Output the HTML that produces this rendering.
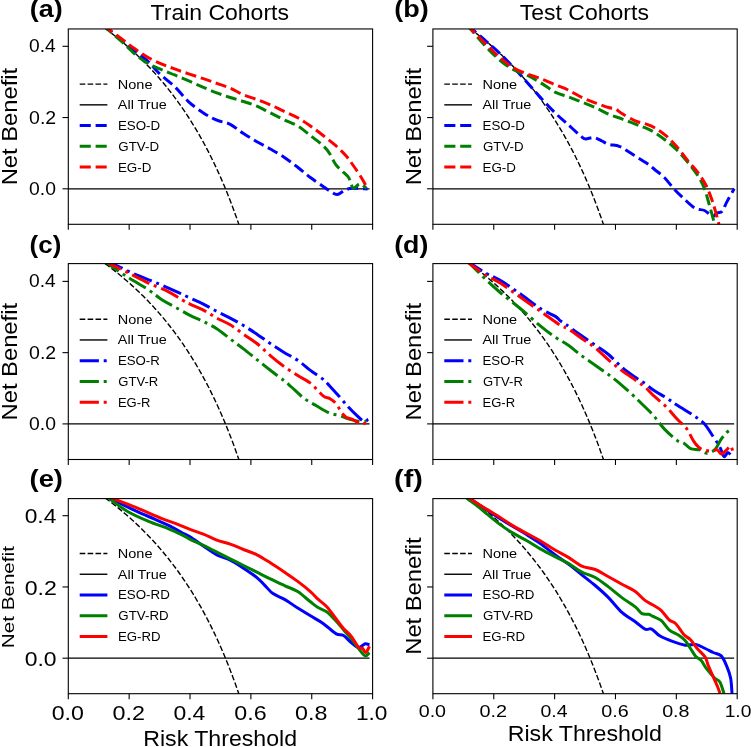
<!DOCTYPE html>
<html><head><meta charset="utf-8"><title>Decision curves</title>
<style>
html,body{margin:0;padding:0;background:#fff;}
#fig{width:751px;height:747px;overflow:hidden;position:relative;background:#fff;}
svg{display:block;will-change:transform;font-family:"Liberation Sans",sans-serif;}
</style></head><body>
<div id="fig"><svg width="751" height="747" viewBox="0 0 751 747">
<defs>
<clipPath id="c00"><rect x="68.3" y="28.95" width="304.3" height="195.35"/></clipPath>
<clipPath id="c01"><rect x="432.9" y="28.95" width="304.3" height="195.35"/></clipPath>
<clipPath id="c10"><rect x="68.3" y="263.6" width="304.3" height="195.9"/></clipPath>
<clipPath id="c11"><rect x="432.9" y="263.6" width="304.3" height="195.9"/></clipPath>
<clipPath id="c20"><rect x="68.3" y="498.6" width="304.3" height="195.1"/></clipPath>
<clipPath id="c21"><rect x="432.9" y="498.6" width="304.3" height="195.1"/></clipPath>
</defs>
<line x1="68.3" y1="188.8" x2="369.56" y2="188.8" stroke="#000" stroke-width="1.3"/>
<path d="M98.73 23.94 L99.96 24.8 L101.18 25.67 L102.41 26.54 L103.64 27.43 L104.87 28.32 L106.09 29.22 L107.32 30.13 L108.55 31.05 L109.78 31.98 L111 32.92 L112.23 33.86 L113.46 34.81 L114.69 35.78 L115.91 36.75 L117.14 37.73 L118.37 38.72 L119.6 39.72 L120.82 40.73 L122.05 41.75 L123.28 42.78 L124.51 43.82 L125.73 44.87 L126.96 45.93 L128.19 47 L129.42 48.08 L130.64 49.18 L131.87 50.28 L133.1 51.4 L134.33 52.53 L135.55 53.67 L136.78 54.82 L138.01 55.98 L139.24 57.15 L140.46 58.34 L141.69 59.54 L142.92 60.76 L144.14 61.98 L145.37 63.22 L146.6 64.47 L147.83 65.74 L149.05 67.02 L150.28 68.31 L151.51 69.62 L152.74 70.95 L153.96 72.29 L155.19 73.64 L156.42 75.01 L157.65 76.39 L158.87 77.79 L160.1 79.21 L161.33 80.64 L162.56 82.09 L163.78 83.56 L165.01 85.04 L166.24 86.54 L167.47 88.06 L168.69 89.6 L169.92 91.16 L171.15 92.74 L172.38 94.33 L173.6 95.94 L174.83 97.58 L176.06 99.23 L177.29 100.91 L178.51 102.61 L179.74 104.33 L180.97 106.07 L182.2 107.83 L183.42 109.62 L184.65 111.43 L185.88 113.26 L187.1 115.12 L188.33 117 L189.56 118.91 L190.79 120.84 L192.01 122.8 L193.24 124.79 L194.47 126.8 L195.7 128.84 L196.92 130.91 L198.15 133.01 L199.38 135.14 L200.61 137.3 L201.83 139.49 L203.06 141.71 L204.29 143.97 L205.52 146.25 L206.74 148.57 L207.97 150.93 L209.2 153.32 L210.43 155.75 L211.65 158.22 L212.88 160.72 L214.11 163.26 L215.34 165.84 L216.56 168.46 L217.79 171.13 L219.02 173.83 L220.25 176.58 L221.47 179.38 L222.7 182.22 L223.93 185.1 L225.16 188.04 L226.38 191.02 L227.61 194.06 L228.84 197.14 L230.06 200.28 L231.29 203.48 L232.52 206.73 L233.75 210.03 L234.97 213.4 L236.2 216.83 L237.43 220.32 L238.66 223.87 L239.88 227.49 L241.11 231.18 L242.34 234.93 L243.57 238.76 L244.79 242.66" fill="none" stroke="#000" stroke-width="1.4" stroke-dasharray="5.6 2.3" clip-path="url(#c00)" stroke-linejoin="round"/>
<path d="M104 25 C104.67 25.67 105.03 26.42 108 29 C110.97 31.58 117.27 36.78 121.8 40.5 C126.33 44.22 130.75 47.75 135.2 51.3 C139.65 54.85 145.17 58.82 148.5 61.8 C151.83 64.78 152.97 66.85 155.2 69.2 C157.43 71.55 158.55 72.9 161.9 75.9 C165.25 78.9 170.83 82.88 175.3 87.2 C179.77 91.52 184.02 97.52 188.7 101.8 C193.38 106.08 198.72 109.83 203.4 112.9 C208.08 115.97 212.33 118.3 216.8 120.2 C221.27 122.1 225.75 122.07 230.2 124.3 C234.65 126.53 239.05 130.7 243.5 133.6 C247.95 136.5 252.43 139.13 256.9 141.7 C261.37 144.27 265.83 146.47 270.3 149 C274.77 151.53 279.13 153.85 283.7 156.9 C288.27 159.95 293.25 163.87 297.7 167.3 C302.15 170.73 306.17 174.32 310.4 177.5 C314.63 180.68 319.92 184.18 323.1 186.4 C326.28 188.62 327.17 189.43 329.5 190.8 C331.83 192.17 334.57 194.7 337.1 194.6 C339.63 194.5 342.15 191.25 344.7 190.2 C347.25 189.15 348.58 188.52 352.4 188.3 C356.22 188.08 365.07 188.8 367.6 188.9" fill="none" stroke="#0000ff" stroke-width="3" stroke-dasharray="11.1 4.8" clip-path="url(#c00)" stroke-linejoin="round" stroke-linecap="butt"/>
<path d="M104 25 C104.58 25.67 104.53 26.22 107.5 29 C110.47 31.78 117.18 37.47 121.8 41.7 C126.42 45.93 130.75 50.72 135.2 54.4 C139.65 58.08 144.05 61.23 148.5 63.8 C152.95 66.37 157.43 67.9 161.9 69.8 C166.37 71.7 170.62 73.27 175.3 75.2 C179.98 77.13 185.32 79.37 190 81.4 C194.68 83.43 198.93 85.5 203.4 87.4 C207.87 89.3 212.33 91.12 216.8 92.8 C221.27 94.48 225.75 96.05 230.2 97.5 C234.65 98.95 239.05 100.05 243.5 101.5 C247.95 102.95 252.43 104.3 256.9 106.2 C261.37 108.1 265.83 110.67 270.3 112.9 C274.77 115.13 279.13 117.42 283.7 119.6 C288.27 121.78 293.25 123.35 297.7 126 C302.15 128.65 306.17 132.22 310.4 135.5 C314.63 138.78 319.92 142.73 323.1 145.7 C326.28 148.67 327.38 150.13 329.5 153.3 C331.62 156.47 333.68 161.73 335.8 164.7 C337.92 167.67 340.07 168.97 342.2 171.1 C344.33 173.23 347.12 175.38 348.6 177.5 C350.08 179.62 350.27 182 351.1 183.8 C351.93 185.6 352.12 188.3 353.6 188.3 C355.08 188.3 357.87 183.8 360 183.8 C362.13 183.8 365.33 187.55 366.4 188.3" fill="none" stroke="#008000" stroke-width="3" stroke-dasharray="11.1 4.8" clip-path="url(#c00)" stroke-linejoin="round" stroke-linecap="butt"/>
<path d="M104 25 C104.73 25.67 105.43 26.67 108.4 29 C111.37 31.33 117.33 35.65 121.8 39 C126.27 42.35 130.75 45.97 135.2 49.1 C139.65 52.23 144.05 55.3 148.5 57.8 C152.95 60.3 157.43 62.2 161.9 64.1 C166.37 66 170.83 67.58 175.3 69.2 C179.77 70.82 184.02 72.22 188.7 73.8 C193.38 75.38 198.72 77.1 203.4 78.7 C208.08 80.3 212.33 81.83 216.8 83.4 C221.27 84.97 225.75 86.2 230.2 88.1 C234.65 90 239.05 92.9 243.5 94.8 C247.95 96.7 252.43 97.83 256.9 99.5 C261.37 101.17 265.83 102.85 270.3 104.8 C274.77 106.75 279.13 109.05 283.7 111.2 C288.27 113.35 293.25 115.23 297.7 117.7 C302.15 120.17 306.17 123.03 310.4 126 C314.63 128.97 318.87 132.22 323.1 135.5 C327.33 138.78 331.98 142.32 335.8 145.7 C339.62 149.08 343.03 152.42 346 155.8 C348.97 159.18 351.05 162.38 353.6 166 C356.15 169.62 359.07 173.9 361.3 177.5 C363.53 181.1 366.05 185.92 367 187.6" fill="none" stroke="#ff0000" stroke-width="3" stroke-dasharray="11.1 4.8" clip-path="url(#c00)" stroke-linejoin="round" stroke-linecap="butt"/>
<rect x="68.3" y="28.95" width="304.3" height="195.35" fill="none" stroke="#000" stroke-width="1.1"/>
<line x1="62.5" y1="188.8" x2="68.3" y2="188.8" stroke="#000" stroke-width="1.1"/>
<line x1="62.5" y1="117.55" x2="68.3" y2="117.55" stroke="#000" stroke-width="1.1"/>
<line x1="62.5" y1="46.3" x2="68.3" y2="46.3" stroke="#000" stroke-width="1.1"/>
<line x1="68.3" y1="224.3" x2="68.3" y2="229.8" stroke="#000" stroke-width="1.1"/>
<line x1="129.16" y1="224.3" x2="129.16" y2="229.8" stroke="#000" stroke-width="1.1"/>
<line x1="190.02" y1="224.3" x2="190.02" y2="229.8" stroke="#000" stroke-width="1.1"/>
<line x1="250.88" y1="224.3" x2="250.88" y2="229.8" stroke="#000" stroke-width="1.1"/>
<line x1="311.74" y1="224.3" x2="311.74" y2="229.8" stroke="#000" stroke-width="1.1"/>
<line x1="372.6" y1="224.3" x2="372.6" y2="229.8" stroke="#000" stroke-width="1.1"/>
<line x1="79.7" y1="84.1" x2="107.4" y2="84.1" stroke="#000" stroke-width="1.4" stroke-dasharray="5.6 2.3"/>
<line x1="79.7" y1="104.85" x2="107.4" y2="104.85" stroke="#000" stroke-width="1.4"/>
<line x1="79.7" y1="125.6" x2="107.4" y2="125.6" stroke="#0000ff" stroke-width="3" stroke-dasharray="11.1 4.8"/>
<line x1="79.7" y1="146.35" x2="107.4" y2="146.35" stroke="#008000" stroke-width="3" stroke-dasharray="11.1 4.8"/>
<line x1="79.7" y1="167.1" x2="107.4" y2="167.1" stroke="#ff0000" stroke-width="3" stroke-dasharray="11.1 4.8"/>
<text transform="translate(117.8,88.8) scale(1.0624,1)" font-size="13.67" fill="#000">None</text>
<text transform="translate(117.86,109.1) scale(1.0539,1)" font-size="13.67" fill="#000">All True</text>
<text transform="translate(117.9,129.8) scale(0.9776,1)" font-size="13.67" fill="#000">ESO-D</text>
<text transform="translate(118.33,150.6) scale(0.9744,1)" font-size="13.67" fill="#000">GTV-D</text>
<text transform="translate(117.9,171.8) scale(0.9783,1)" font-size="13.67" fill="#000">EG-D</text>
<line x1="432.9" y1="188.8" x2="734.16" y2="188.8" stroke="#000" stroke-width="1.3"/>
<path d="M463.33 23.94 L464.56 24.8 L465.78 25.67 L467.01 26.54 L468.24 27.43 L469.47 28.32 L470.69 29.22 L471.92 30.13 L473.15 31.05 L474.38 31.98 L475.6 32.92 L476.83 33.86 L478.06 34.81 L479.29 35.78 L480.51 36.75 L481.74 37.73 L482.97 38.72 L484.2 39.72 L485.42 40.73 L486.65 41.75 L487.88 42.78 L489.11 43.82 L490.33 44.87 L491.56 45.93 L492.79 47 L494.02 48.08 L495.24 49.18 L496.47 50.28 L497.7 51.4 L498.93 52.53 L500.15 53.67 L501.38 54.82 L502.61 55.98 L503.84 57.15 L505.06 58.34 L506.29 59.54 L507.52 60.76 L508.74 61.98 L509.97 63.22 L511.2 64.47 L512.43 65.74 L513.65 67.02 L514.88 68.31 L516.11 69.62 L517.34 70.95 L518.56 72.29 L519.79 73.64 L521.02 75.01 L522.25 76.39 L523.47 77.79 L524.7 79.21 L525.93 80.64 L527.16 82.09 L528.38 83.56 L529.61 85.04 L530.84 86.54 L532.07 88.06 L533.29 89.6 L534.52 91.16 L535.75 92.74 L536.98 94.33 L538.2 95.94 L539.43 97.58 L540.66 99.23 L541.89 100.91 L543.11 102.61 L544.34 104.33 L545.57 106.07 L546.8 107.83 L548.02 109.62 L549.25 111.43 L550.48 113.26 L551.7 115.12 L552.93 117 L554.16 118.91 L555.39 120.84 L556.61 122.8 L557.84 124.79 L559.07 126.8 L560.3 128.84 L561.52 130.91 L562.75 133.01 L563.98 135.14 L565.21 137.3 L566.43 139.49 L567.66 141.71 L568.89 143.97 L570.12 146.25 L571.34 148.57 L572.57 150.93 L573.8 153.32 L575.03 155.75 L576.25 158.22 L577.48 160.72 L578.71 163.26 L579.94 165.84 L581.16 168.46 L582.39 171.13 L583.62 173.83 L584.85 176.58 L586.07 179.38 L587.3 182.22 L588.53 185.1 L589.76 188.04 L590.98 191.02 L592.21 194.06 L593.44 197.14 L594.66 200.28 L595.89 203.48 L597.12 206.73 L598.35 210.03 L599.57 213.4 L600.8 216.83 L602.03 220.32 L603.26 223.87 L604.48 227.49 L605.71 231.18 L606.94 234.93 L608.17 238.76 L609.39 242.66" fill="none" stroke="#000" stroke-width="1.4" stroke-dasharray="5.6 2.3" clip-path="url(#c01)" stroke-linejoin="round"/>
<path d="M468 25 C468.67 25.67 468.87 26.2 472 29 C475.13 31.8 482.1 37.67 486.8 41.8 C491.5 45.93 494.85 48.57 500.2 53.8 C505.55 59.03 514 67.97 518.9 73.2 C523.8 78.43 526.03 81.18 529.6 85.2 C533.17 89.22 536.07 92.7 540.3 97.3 C544.53 101.9 550.32 108.2 555 112.8 C559.68 117.4 563.93 120.88 568.4 124.9 C572.87 128.92 578.9 134.57 581.8 136.9 C584.7 139.23 583.8 138.78 585.8 138.9 C587.8 139.02 591.12 137.25 593.8 137.6 C596.48 137.95 599.45 139.88 601.9 141 C604.35 142.12 605.6 143.42 608.5 144.3 C611.4 145.18 615.95 145.07 619.3 146.3 C622.65 147.53 625.48 149.8 628.6 151.7 C631.72 153.6 634.65 155.57 638 157.7 C641.35 159.83 645.93 162.53 648.7 164.5 C651.47 166.47 652 167.33 654.6 169.5 C657.2 171.67 661.08 174.28 664.3 177.5 C667.52 180.72 670.68 185.32 673.9 188.8 C677.12 192.28 680.12 195.18 683.6 198.4 C687.08 201.62 691.32 206.08 694.8 208.1 C698.28 210.12 701.55 209.17 704.5 210.5 C707.45 211.83 710.37 215.7 712.5 216.1 C714.63 216.5 715.68 213.7 717.3 212.9 C718.92 212.1 720.58 213.18 722.2 211.3 C723.82 209.42 725 205.35 727 201.6 C729 197.85 733 190.93 734.2 188.8" fill="none" stroke="#0000ff" stroke-width="3" stroke-dasharray="11.1 4.8" clip-path="url(#c01)" stroke-linejoin="round" stroke-linecap="butt"/>
<path d="M467 25 C467.58 25.67 467.2 25.22 470.5 29 C473.8 32.78 481.85 42.45 486.8 47.7 C491.75 52.95 495.75 56.82 500.2 60.5 C504.65 64.18 509.05 67.35 513.5 69.8 C517.95 72.25 522.43 73.08 526.9 75.2 C531.37 77.32 535.62 79.68 540.3 82.5 C544.98 85.32 550.32 89.72 555 92.1 C559.68 94.48 563.93 95.13 568.4 96.8 C572.87 98.47 577.33 100.32 581.8 102.1 C586.27 103.88 590.75 105.48 595.2 107.5 C599.65 109.52 604.05 112.3 608.5 114.2 C612.95 116.1 617.43 117.23 621.9 118.9 C626.37 120.57 631.45 122.73 635.3 124.2 C639.15 125.67 641.78 126.32 645 127.7 C648.22 129.08 651.12 130.37 654.6 132.5 C658.08 134.63 662.15 137.55 665.9 140.5 C669.65 143.45 673.35 146.45 677.1 150.2 C680.85 153.95 684.92 158.72 688.4 163 C691.88 167.28 695.32 171.6 698 175.9 C700.68 180.2 702.62 183.98 704.5 188.8 C706.38 193.62 707.7 199.18 709.3 204.8 C710.9 210.42 713.12 218.3 714.1 222.5 C715.08 226.7 715.02 228.75 715.2 230" fill="none" stroke="#008000" stroke-width="3" stroke-dasharray="11.1 4.8" clip-path="url(#c01)" stroke-linejoin="round" stroke-linecap="butt"/>
<path d="M467 25 C467.67 25.67 467.7 25.65 471 29 C474.3 32.35 481.93 40.3 486.8 45.1 C491.67 49.9 495.75 54.02 500.2 57.8 C504.65 61.58 509.05 65.13 513.5 67.8 C517.95 70.47 522.43 72.02 526.9 73.8 C531.37 75.58 535.62 76.68 540.3 78.5 C544.98 80.32 550.32 82.77 555 84.7 C559.68 86.63 563.93 87.98 568.4 90.1 C572.87 92.22 577.33 95.28 581.8 97.4 C586.27 99.52 590.75 101.12 595.2 102.8 C599.65 104.48 605.17 106.5 608.5 107.5 C611.83 108.5 612.97 107.8 615.2 108.8 C617.43 109.8 618.55 111.48 621.9 113.5 C625.25 115.52 631.45 119.2 635.3 120.9 C639.15 122.6 641.78 122.57 645 123.7 C648.22 124.83 651.12 125.7 654.6 127.7 C658.08 129.7 662.15 132.48 665.9 135.7 C669.65 138.92 673.35 142.72 677.1 147 C680.85 151.28 684.92 157.12 688.4 161.4 C691.88 165.68 695.05 168.68 698 172.7 C700.95 176.72 703.68 180.68 706.1 185.5 C708.52 190.32 710.5 195.7 712.5 201.6 C714.5 207.5 716.88 216.17 718.1 220.9 C719.32 225.63 719.52 228.48 719.8 230" fill="none" stroke="#ff0000" stroke-width="3" stroke-dasharray="11.1 4.8" clip-path="url(#c01)" stroke-linejoin="round" stroke-linecap="butt"/>
<rect x="432.9" y="28.95" width="304.3" height="195.35" fill="none" stroke="#000" stroke-width="1.1"/>
<line x1="427.1" y1="188.8" x2="432.9" y2="188.8" stroke="#000" stroke-width="1.1"/>
<line x1="427.1" y1="117.55" x2="432.9" y2="117.55" stroke="#000" stroke-width="1.1"/>
<line x1="427.1" y1="46.3" x2="432.9" y2="46.3" stroke="#000" stroke-width="1.1"/>
<line x1="432.9" y1="224.3" x2="432.9" y2="229.8" stroke="#000" stroke-width="1.1"/>
<line x1="493.76" y1="224.3" x2="493.76" y2="229.8" stroke="#000" stroke-width="1.1"/>
<line x1="554.62" y1="224.3" x2="554.62" y2="229.8" stroke="#000" stroke-width="1.1"/>
<line x1="615.48" y1="224.3" x2="615.48" y2="229.8" stroke="#000" stroke-width="1.1"/>
<line x1="676.34" y1="224.3" x2="676.34" y2="229.8" stroke="#000" stroke-width="1.1"/>
<line x1="737.2" y1="224.3" x2="737.2" y2="229.8" stroke="#000" stroke-width="1.1"/>
<line x1="444.3" y1="84.1" x2="472" y2="84.1" stroke="#000" stroke-width="1.4" stroke-dasharray="5.6 2.3"/>
<line x1="444.3" y1="104.85" x2="472" y2="104.85" stroke="#000" stroke-width="1.4"/>
<line x1="444.3" y1="125.6" x2="472" y2="125.6" stroke="#0000ff" stroke-width="3" stroke-dasharray="11.1 4.8"/>
<line x1="444.3" y1="146.35" x2="472" y2="146.35" stroke="#008000" stroke-width="3" stroke-dasharray="11.1 4.8"/>
<line x1="444.3" y1="167.1" x2="472" y2="167.1" stroke="#ff0000" stroke-width="3" stroke-dasharray="11.1 4.8"/>
<text transform="translate(482.4,88.8) scale(1.0624,1)" font-size="13.67" fill="#000">None</text>
<text transform="translate(482.46,109.1) scale(1.0539,1)" font-size="13.67" fill="#000">All True</text>
<text transform="translate(482.5,129.8) scale(0.9776,1)" font-size="13.67" fill="#000">ESO-D</text>
<text transform="translate(482.93,150.6) scale(0.9744,1)" font-size="13.67" fill="#000">GTV-D</text>
<text transform="translate(482.5,171.8) scale(0.9783,1)" font-size="13.67" fill="#000">EG-D</text>
<line x1="68.3" y1="423.9" x2="369.56" y2="423.9" stroke="#000" stroke-width="1.3"/>
<path d="M98.73 259.04 L99.96 259.9 L101.18 260.77 L102.41 261.64 L103.64 262.53 L104.87 263.42 L106.09 264.32 L107.32 265.23 L108.55 266.15 L109.78 267.08 L111 268.02 L112.23 268.96 L113.46 269.91 L114.69 270.88 L115.91 271.85 L117.14 272.83 L118.37 273.82 L119.6 274.82 L120.82 275.83 L122.05 276.85 L123.28 277.88 L124.51 278.92 L125.73 279.97 L126.96 281.03 L128.19 282.1 L129.42 283.18 L130.64 284.28 L131.87 285.38 L133.1 286.5 L134.33 287.63 L135.55 288.77 L136.78 289.92 L138.01 291.08 L139.24 292.25 L140.46 293.44 L141.69 294.64 L142.92 295.86 L144.14 297.08 L145.37 298.32 L146.6 299.57 L147.83 300.84 L149.05 302.12 L150.28 303.41 L151.51 304.72 L152.74 306.05 L153.96 307.39 L155.19 308.74 L156.42 310.11 L157.65 311.49 L158.87 312.89 L160.1 314.31 L161.33 315.74 L162.56 317.19 L163.78 318.66 L165.01 320.14 L166.24 321.64 L167.47 323.16 L168.69 324.7 L169.92 326.26 L171.15 327.84 L172.38 329.43 L173.6 331.04 L174.83 332.68 L176.06 334.33 L177.29 336.01 L178.51 337.71 L179.74 339.43 L180.97 341.17 L182.2 342.93 L183.42 344.72 L184.65 346.53 L185.88 348.36 L187.1 350.22 L188.33 352.1 L189.56 354.01 L190.79 355.94 L192.01 357.9 L193.24 359.89 L194.47 361.9 L195.7 363.94 L196.92 366.01 L198.15 368.11 L199.38 370.24 L200.61 372.4 L201.83 374.59 L203.06 376.81 L204.29 379.07 L205.52 381.35 L206.74 383.67 L207.97 386.03 L209.2 388.42 L210.43 390.85 L211.65 393.32 L212.88 395.82 L214.11 398.36 L215.34 400.94 L216.56 403.56 L217.79 406.23 L219.02 408.93 L220.25 411.68 L221.47 414.48 L222.7 417.32 L223.93 420.2 L225.16 423.14 L226.38 426.12 L227.61 429.16 L228.84 432.24 L230.06 435.38 L231.29 438.58 L232.52 441.83 L233.75 445.13 L234.97 448.5 L236.2 451.93 L237.43 455.42 L238.66 458.97 L239.88 462.59 L241.11 466.28 L242.34 470.03 L243.57 473.86 L244.79 477.76" fill="none" stroke="#000" stroke-width="1.4" stroke-dasharray="5.6 2.3" clip-path="url(#c10)" stroke-linejoin="round"/>
<path d="M106 259 C107 259.77 110.03 262.43 112 263.6 C113.97 264.77 113.93 264.2 117.8 266 C121.67 267.8 128.97 271.67 135.2 274.4 C141.43 277.13 148.52 279.62 155.2 282.4 C161.88 285.18 169.5 288.5 175.3 291.1 C181.1 293.7 185.32 295.83 190 298 C194.68 300.17 198.93 301.87 203.4 304.1 C207.87 306.33 212.33 309.07 216.8 311.4 C221.27 313.73 225.75 315.75 230.2 318.1 C234.65 320.45 239.05 322.82 243.5 325.5 C247.95 328.18 252.43 331.2 256.9 334.2 C261.37 337.2 265.83 340.5 270.3 343.5 C274.77 346.5 279.13 349.4 283.7 352.2 C288.27 355 293.25 357.27 297.7 360.3 C302.15 363.33 306.17 367.23 310.4 370.4 C314.63 373.57 319.92 376.75 323.1 379.3 C326.28 381.85 326.73 382.73 329.5 385.7 C332.27 388.67 336.52 393.5 339.7 397.1 C342.88 400.7 345.85 404.33 348.6 407.3 C351.35 410.27 353.67 412.57 356.2 414.9 C358.73 417.23 361.78 420.55 363.8 421.3 C365.82 422.05 367.55 419.72 368.3 419.4" fill="none" stroke="#0000ff" stroke-width="3" stroke-dasharray="19.2 4.8 3 4.8" clip-path="url(#c10)" stroke-linejoin="round" stroke-linecap="butt"/>
<path d="M104 259 C104.67 259.77 103.92 260.48 108 263.6 C112.08 266.72 121.75 273.33 128.5 277.7 C135.25 282.07 142.93 286.12 148.5 289.8 C154.07 293.48 157.43 296.9 161.9 299.8 C166.37 302.7 170.62 304.6 175.3 307.2 C179.98 309.8 185.32 313.02 190 315.4 C194.68 317.78 198.93 319.27 203.4 321.5 C207.87 323.73 212.33 325.9 216.8 328.8 C221.27 331.7 225.75 335.55 230.2 338.9 C234.65 342.25 239.05 345.45 243.5 348.9 C247.95 352.35 252.43 356.03 256.9 359.6 C261.37 363.17 265.7 366.73 270.3 370.3 C274.9 373.87 280.98 378.22 284.5 381 C288.02 383.78 288.13 384.1 291.4 387 C294.67 389.9 299.87 395.23 304.1 398.4 C308.33 401.57 312.57 403.57 316.8 406 C321.03 408.43 325.68 411.42 329.5 413 C333.32 414.58 336.95 414.65 339.7 415.5 C342.45 416.35 342.83 417.13 346 418.1 C349.17 419.07 355.3 420.77 358.7 421.3 C362.1 421.83 365.12 421.3 366.4 421.3" fill="none" stroke="#008000" stroke-width="3" stroke-dasharray="19.2 4.8 3 4.8" clip-path="url(#c10)" stroke-linejoin="round" stroke-linecap="butt"/>
<path d="M105 259 C105.83 259.77 106.08 261.27 110 263.6 C113.92 265.93 122.08 269.75 128.5 273 C134.92 276.25 141.82 279.97 148.5 283.1 C155.18 286.23 163.02 289.02 168.6 291.8 C174.18 294.58 178.43 297.75 182 299.8 C185.57 301.85 186.43 302.38 190 304.1 C193.57 305.82 198.93 307.77 203.4 310.1 C207.87 312.43 212.33 315.65 216.8 318.1 C221.27 320.55 225.75 322.12 230.2 324.8 C234.65 327.48 239.05 331.08 243.5 334.2 C247.95 337.32 252.43 339.93 256.9 343.5 C261.37 347.07 265.83 351.8 270.3 355.6 C274.77 359.4 279.13 362.98 283.7 366.3 C288.27 369.62 293.25 372.7 297.7 375.5 C302.15 378.3 306.17 379.72 310.4 383.1 C314.63 386.48 319.92 393.25 323.1 395.8 C326.28 398.35 327.38 397.12 329.5 398.4 C331.62 399.68 333.27 400.53 335.8 403.5 C338.33 406.47 341.93 413.55 344.7 416.2 C347.47 418.85 349.63 418.13 352.4 419.4 C355.17 420.67 358.55 423.38 361.3 423.8 C364.05 424.22 367.63 422.22 368.9 421.9" fill="none" stroke="#ff0000" stroke-width="3" stroke-dasharray="19.2 4.8 3 4.8" clip-path="url(#c10)" stroke-linejoin="round" stroke-linecap="butt"/>
<rect x="68.3" y="263.6" width="304.3" height="195.9" fill="none" stroke="#000" stroke-width="1.1"/>
<line x1="62.5" y1="423.9" x2="68.3" y2="423.9" stroke="#000" stroke-width="1.1"/>
<line x1="62.5" y1="352.65" x2="68.3" y2="352.65" stroke="#000" stroke-width="1.1"/>
<line x1="62.5" y1="281.4" x2="68.3" y2="281.4" stroke="#000" stroke-width="1.1"/>
<line x1="68.3" y1="459.5" x2="68.3" y2="465" stroke="#000" stroke-width="1.1"/>
<line x1="129.16" y1="459.5" x2="129.16" y2="465" stroke="#000" stroke-width="1.1"/>
<line x1="190.02" y1="459.5" x2="190.02" y2="465" stroke="#000" stroke-width="1.1"/>
<line x1="250.88" y1="459.5" x2="250.88" y2="465" stroke="#000" stroke-width="1.1"/>
<line x1="311.74" y1="459.5" x2="311.74" y2="465" stroke="#000" stroke-width="1.1"/>
<line x1="372.6" y1="459.5" x2="372.6" y2="465" stroke="#000" stroke-width="1.1"/>
<line x1="79.7" y1="319.2" x2="107.4" y2="319.2" stroke="#000" stroke-width="1.4" stroke-dasharray="5.6 2.3"/>
<line x1="79.7" y1="339.95" x2="107.4" y2="339.95" stroke="#000" stroke-width="1.4"/>
<line x1="79.7" y1="360.7" x2="107.4" y2="360.7" stroke="#0000ff" stroke-width="3" stroke-dasharray="19.2 4.8 3 4.8"/>
<line x1="79.7" y1="381.45" x2="107.4" y2="381.45" stroke="#008000" stroke-width="3" stroke-dasharray="19.2 4.8 3 4.8"/>
<line x1="79.7" y1="402.2" x2="107.4" y2="402.2" stroke="#ff0000" stroke-width="3" stroke-dasharray="19.2 4.8 3 4.8"/>
<text transform="translate(117.8,323.9) scale(1.0624,1)" font-size="13.67" fill="#000">None</text>
<text transform="translate(117.86,344.2) scale(1.0539,1)" font-size="13.67" fill="#000">All True</text>
<text transform="translate(117.91,364.9) scale(0.9680,1)" font-size="13.67" fill="#000">ESO-R</text>
<text transform="translate(118.35,385.7) scale(0.9546,1)" font-size="13.67" fill="#000">GTV-R</text>
<text transform="translate(117.92,406.9) scale(0.9536,1)" font-size="13.67" fill="#000">EG-R</text>
<line x1="432.9" y1="423.9" x2="734.16" y2="423.9" stroke="#000" stroke-width="1.3"/>
<path d="M463.33 259.04 L464.56 259.9 L465.78 260.77 L467.01 261.64 L468.24 262.53 L469.47 263.42 L470.69 264.32 L471.92 265.23 L473.15 266.15 L474.38 267.08 L475.6 268.02 L476.83 268.96 L478.06 269.91 L479.29 270.88 L480.51 271.85 L481.74 272.83 L482.97 273.82 L484.2 274.82 L485.42 275.83 L486.65 276.85 L487.88 277.88 L489.11 278.92 L490.33 279.97 L491.56 281.03 L492.79 282.1 L494.02 283.18 L495.24 284.28 L496.47 285.38 L497.7 286.5 L498.93 287.63 L500.15 288.77 L501.38 289.92 L502.61 291.08 L503.84 292.25 L505.06 293.44 L506.29 294.64 L507.52 295.86 L508.74 297.08 L509.97 298.32 L511.2 299.57 L512.43 300.84 L513.65 302.12 L514.88 303.41 L516.11 304.72 L517.34 306.05 L518.56 307.39 L519.79 308.74 L521.02 310.11 L522.25 311.49 L523.47 312.89 L524.7 314.31 L525.93 315.74 L527.16 317.19 L528.38 318.66 L529.61 320.14 L530.84 321.64 L532.07 323.16 L533.29 324.7 L534.52 326.26 L535.75 327.84 L536.98 329.43 L538.2 331.04 L539.43 332.68 L540.66 334.33 L541.89 336.01 L543.11 337.71 L544.34 339.43 L545.57 341.17 L546.8 342.93 L548.02 344.72 L549.25 346.53 L550.48 348.36 L551.7 350.22 L552.93 352.1 L554.16 354.01 L555.39 355.94 L556.61 357.9 L557.84 359.89 L559.07 361.9 L560.3 363.94 L561.52 366.01 L562.75 368.11 L563.98 370.24 L565.21 372.4 L566.43 374.59 L567.66 376.81 L568.89 379.07 L570.12 381.35 L571.34 383.67 L572.57 386.03 L573.8 388.42 L575.03 390.85 L576.25 393.32 L577.48 395.82 L578.71 398.36 L579.94 400.94 L581.16 403.56 L582.39 406.23 L583.62 408.93 L584.85 411.68 L586.07 414.48 L587.3 417.32 L588.53 420.2 L589.76 423.14 L590.98 426.12 L592.21 429.16 L593.44 432.24 L594.66 435.38 L595.89 438.58 L597.12 441.83 L598.35 445.13 L599.57 448.5 L600.8 451.93 L602.03 455.42 L603.26 458.97 L604.48 462.59 L605.71 466.28 L606.94 470.03 L608.17 473.86 L609.39 477.76" fill="none" stroke="#000" stroke-width="1.4" stroke-dasharray="5.6 2.3" clip-path="url(#c11)" stroke-linejoin="round"/>
<path d="M467 259 C467.67 259.77 467.7 261.15 471 263.6 C474.3 266.05 481.93 270.9 486.8 273.7 C491.67 276.5 494.63 277.05 500.2 280.4 C505.77 283.75 513.52 289.12 520.2 293.8 C526.88 298.48 534.43 304.73 540.3 308.5 C546.17 312.27 552.1 314.38 555.4 316.4 C558.7 318.42 558.32 319.25 560.1 320.6 C561.88 321.95 562.87 322.22 566.1 324.5 C569.33 326.78 574.65 330.85 579.5 334.3 C584.35 337.75 590.37 341.83 595.2 345.2 C600.03 348.57 604.05 350.83 608.5 354.5 C612.95 358.17 617.43 363.4 621.9 367.2 C626.37 371 631.45 374.58 635.3 377.3 C639.15 380.02 642 381.38 645 383.5 C648 385.62 649.7 387.58 653.3 390 C656.9 392.42 662.6 395.45 666.6 398 C670.6 400.55 672.85 402.42 677.3 405.3 C681.75 408.18 688.87 412.3 693.3 415.3 C697.73 418.3 700.58 419.75 703.9 423.3 C707.22 426.85 710.53 432.62 713.2 436.6 C715.87 440.58 718.12 443.88 719.9 447.2 C721.68 450.52 722.57 455.6 723.9 456.5 C725.23 457.4 726.57 452.6 727.9 452.6 C729.23 452.6 731.23 455.85 731.9 456.5" fill="none" stroke="#0000ff" stroke-width="3" stroke-dasharray="19.2 4.8 3 4.8" clip-path="url(#c11)" stroke-linejoin="round" stroke-linecap="butt"/>
<path d="M466 259 C466.67 259.77 466.53 260.03 470 263.6 C473.47 267.17 481.77 275.58 486.8 280.4 C491.83 285.22 494.63 287.82 500.2 292.5 C505.77 297.18 513.52 302.93 520.2 308.5 C526.88 314.07 534.5 321.13 540.3 325.9 C546.1 330.67 550.32 333.88 555 337.1 C559.68 340.32 563.93 342.07 568.4 345.2 C572.87 348.33 577.33 352.57 581.8 355.9 C586.27 359.23 590.75 362.08 595.2 365.2 C599.65 368.32 604.05 371.25 608.5 374.6 C612.95 377.95 617.43 381.5 621.9 385.3 C626.37 389.1 632.28 394.62 635.3 397.4 C638.32 400.18 637 399.02 640 402 C643 404.98 649.3 410.87 653.3 415.3 C657.3 419.73 660 424.38 664 428.6 C668 432.82 673.98 438.17 677.3 440.6 C680.62 443.03 681.68 441.87 683.9 443.2 C686.12 444.53 687.93 447.48 690.6 448.6 C693.27 449.72 697.23 449.13 699.9 449.9 C702.57 450.67 704.15 453.2 706.6 453.2 C709.05 453.2 712.17 452.23 714.6 449.9 C717.03 447.57 719.2 442.08 721.2 439.2 C723.2 436.32 724.82 434.37 726.6 432.6 C728.38 430.83 731.02 429.27 731.9 428.6" fill="none" stroke="#008000" stroke-width="3" stroke-dasharray="19.2 4.8 3 4.8" clip-path="url(#c11)" stroke-linejoin="round" stroke-linecap="butt"/>
<path d="M466 259 C466.58 259.77 466.03 260.82 469.5 263.6 C472.97 266.38 481.68 272.45 486.8 275.7 C491.92 278.95 494.63 279.53 500.2 283.1 C505.77 286.67 513.52 292.42 520.2 297.1 C526.88 301.78 533.83 306.65 540.3 311.2 C546.77 315.75 554.32 321.42 559 324.4 C563.68 327.38 564.6 326.75 568.4 329.1 C572.2 331.45 577.33 335.38 581.8 338.5 C586.27 341.62 590.75 344.23 595.2 347.8 C599.65 351.37 604.05 356.1 608.5 359.9 C612.95 363.7 617.43 367.25 621.9 370.6 C626.37 373.95 631.45 377.27 635.3 380 C639.15 382.73 642 384.45 645 387 C648 389.55 649.7 391.92 653.3 395.3 C656.9 398.68 662.6 403.3 666.6 407.3 C670.6 411.3 673.97 415.75 677.3 419.3 C680.63 422.85 683.93 425.05 686.6 428.6 C689.27 432.15 691.3 437.5 693.3 440.6 C695.3 443.7 696.83 445.65 698.6 447.2 C700.37 448.75 701.9 449.23 703.9 449.9 C705.9 450.57 708.38 451.2 710.6 451.2 C712.82 451.2 715.43 449.45 717.2 449.9 C718.97 450.35 719.63 453.9 721.2 453.9 C722.77 453.9 725.05 451.23 726.6 449.9 C728.15 448.57 729.4 445.45 730.5 445.9 C731.6 446.35 732.75 451.48 733.2 452.6" fill="none" stroke="#ff0000" stroke-width="3" stroke-dasharray="19.2 4.8 3 4.8" clip-path="url(#c11)" stroke-linejoin="round" stroke-linecap="butt"/>
<rect x="432.9" y="263.6" width="304.3" height="195.9" fill="none" stroke="#000" stroke-width="1.1"/>
<line x1="427.1" y1="423.9" x2="432.9" y2="423.9" stroke="#000" stroke-width="1.1"/>
<line x1="427.1" y1="352.65" x2="432.9" y2="352.65" stroke="#000" stroke-width="1.1"/>
<line x1="427.1" y1="281.4" x2="432.9" y2="281.4" stroke="#000" stroke-width="1.1"/>
<line x1="432.9" y1="459.5" x2="432.9" y2="465" stroke="#000" stroke-width="1.1"/>
<line x1="493.76" y1="459.5" x2="493.76" y2="465" stroke="#000" stroke-width="1.1"/>
<line x1="554.62" y1="459.5" x2="554.62" y2="465" stroke="#000" stroke-width="1.1"/>
<line x1="615.48" y1="459.5" x2="615.48" y2="465" stroke="#000" stroke-width="1.1"/>
<line x1="676.34" y1="459.5" x2="676.34" y2="465" stroke="#000" stroke-width="1.1"/>
<line x1="737.2" y1="459.5" x2="737.2" y2="465" stroke="#000" stroke-width="1.1"/>
<line x1="444.3" y1="319.2" x2="472" y2="319.2" stroke="#000" stroke-width="1.4" stroke-dasharray="5.6 2.3"/>
<line x1="444.3" y1="339.95" x2="472" y2="339.95" stroke="#000" stroke-width="1.4"/>
<line x1="444.3" y1="360.7" x2="472" y2="360.7" stroke="#0000ff" stroke-width="3" stroke-dasharray="19.2 4.8 3 4.8"/>
<line x1="444.3" y1="381.45" x2="472" y2="381.45" stroke="#008000" stroke-width="3" stroke-dasharray="19.2 4.8 3 4.8"/>
<line x1="444.3" y1="402.2" x2="472" y2="402.2" stroke="#ff0000" stroke-width="3" stroke-dasharray="19.2 4.8 3 4.8"/>
<text transform="translate(482.4,323.9) scale(1.0624,1)" font-size="13.67" fill="#000">None</text>
<text transform="translate(482.46,344.2) scale(1.0539,1)" font-size="13.67" fill="#000">All True</text>
<text transform="translate(482.51,364.9) scale(0.9680,1)" font-size="13.67" fill="#000">ESO-R</text>
<text transform="translate(482.95,385.7) scale(0.9546,1)" font-size="13.67" fill="#000">GTV-R</text>
<text transform="translate(482.52,406.9) scale(0.9536,1)" font-size="13.67" fill="#000">EG-R</text>
<line x1="68.3" y1="658.2" x2="369.56" y2="658.2" stroke="#000" stroke-width="1.3"/>
<path d="M98.73 493.34 L99.96 494.2 L101.18 495.07 L102.41 495.94 L103.64 496.83 L104.87 497.72 L106.09 498.62 L107.32 499.53 L108.55 500.45 L109.78 501.38 L111 502.32 L112.23 503.26 L113.46 504.21 L114.69 505.18 L115.91 506.15 L117.14 507.13 L118.37 508.12 L119.6 509.12 L120.82 510.13 L122.05 511.15 L123.28 512.18 L124.51 513.22 L125.73 514.27 L126.96 515.33 L128.19 516.4 L129.42 517.48 L130.64 518.58 L131.87 519.68 L133.1 520.8 L134.33 521.93 L135.55 523.07 L136.78 524.22 L138.01 525.38 L139.24 526.55 L140.46 527.74 L141.69 528.94 L142.92 530.16 L144.14 531.38 L145.37 532.62 L146.6 533.87 L147.83 535.14 L149.05 536.42 L150.28 537.71 L151.51 539.02 L152.74 540.35 L153.96 541.69 L155.19 543.04 L156.42 544.41 L157.65 545.79 L158.87 547.19 L160.1 548.61 L161.33 550.04 L162.56 551.49 L163.78 552.96 L165.01 554.44 L166.24 555.94 L167.47 557.46 L168.69 559 L169.92 560.56 L171.15 562.14 L172.38 563.73 L173.6 565.34 L174.83 566.98 L176.06 568.63 L177.29 570.31 L178.51 572.01 L179.74 573.73 L180.97 575.47 L182.2 577.23 L183.42 579.02 L184.65 580.83 L185.88 582.66 L187.1 584.52 L188.33 586.4 L189.56 588.31 L190.79 590.24 L192.01 592.2 L193.24 594.19 L194.47 596.2 L195.7 598.24 L196.92 600.31 L198.15 602.41 L199.38 604.54 L200.61 606.7 L201.83 608.89 L203.06 611.11 L204.29 613.37 L205.52 615.65 L206.74 617.97 L207.97 620.33 L209.2 622.72 L210.43 625.15 L211.65 627.62 L212.88 630.12 L214.11 632.66 L215.34 635.24 L216.56 637.86 L217.79 640.53 L219.02 643.23 L220.25 645.98 L221.47 648.78 L222.7 651.62 L223.93 654.5 L225.16 657.44 L226.38 660.42 L227.61 663.46 L228.84 666.54 L230.06 669.68 L231.29 672.88 L232.52 676.13 L233.75 679.43 L234.97 682.8 L236.2 686.23 L237.43 689.72 L238.66 693.27 L239.88 696.89 L241.11 700.58 L242.34 704.33 L243.57 708.16 L244.79 712.06" fill="none" stroke="#000" stroke-width="1.4" stroke-dasharray="5.6 2.3" clip-path="url(#c20)" stroke-linejoin="round"/>
<path d="M106.5 494 C107.25 494.73 106.22 495.63 111 498.4 C115.78 501.17 127.83 507.1 135.2 510.6 C142.57 514.1 149.63 516.93 155.2 519.4 C160.77 521.87 164.13 523.17 168.6 525.4 C173.07 527.63 178.43 530.92 182 532.8 C185.57 534.68 186.43 534.48 190 536.7 C193.57 538.92 198.93 543.08 203.4 546.1 C207.87 549.12 212.33 552.45 216.8 554.8 C221.27 557.15 225.75 557.97 230.2 560.2 C234.65 562.43 239.05 565.3 243.5 568.2 C247.95 571.1 253.32 574.7 256.9 577.6 C260.48 580.5 262.32 582.93 265 585.6 C267.68 588.27 269.67 591.27 273 593.6 C276.33 595.93 280.88 597.18 285 599.6 C289.12 602.02 293.47 605.4 297.7 608.1 C301.93 610.8 306.17 613.25 310.4 615.8 C314.63 618.35 318.87 620.43 323.1 623.4 C327.33 626.37 332.4 631.58 335.8 633.6 C339.2 635.62 340.95 634.02 343.5 635.5 C346.05 636.98 348.57 640.5 351.1 642.5 C353.63 644.5 356.37 647.3 358.7 647.5 C361.03 647.7 363.3 644.12 365.1 643.7 C366.9 643.28 368.77 644.78 369.5 645" fill="none" stroke="#0000ff" stroke-width="3" clip-path="url(#c20)" stroke-linejoin="round" stroke-linecap="butt"/>
<path d="M105 494 C105.67 494.73 105.08 495.4 109 498.4 C112.92 501.4 121.92 508.18 128.5 512 C135.08 515.82 141.82 518.5 148.5 521.3 C155.18 524.1 163.02 526.55 168.6 528.8 C174.18 531.05 178.43 533.03 182 534.8 C185.57 536.57 186.43 537.63 190 539.4 C193.57 541.17 198.93 543.28 203.4 545.4 C207.87 547.52 212.33 549.87 216.8 552.1 C221.27 554.33 225.75 556.57 230.2 558.8 C234.65 561.03 239.05 563.27 243.5 565.5 C247.95 567.73 252.43 569.97 256.9 572.2 C261.37 574.43 265.62 576.63 270.3 578.9 C274.98 581.17 280.43 583.68 285 585.8 C289.57 587.92 293.47 588.93 297.7 591.6 C301.93 594.27 307.02 599.15 310.4 601.8 C313.78 604.45 315.23 605.8 318 607.5 C320.77 609.2 324.03 609.78 327 612 C329.97 614.22 333.05 617.85 335.8 620.8 C338.55 623.75 340.95 626.73 343.5 629.7 C346.05 632.67 348.57 635.42 351.1 638.6 C353.63 641.78 356.37 645.93 358.7 648.8 C361.03 651.67 363.3 655.17 365.1 655.8 C366.9 656.43 368.77 653.13 369.5 652.6" fill="none" stroke="#008000" stroke-width="3" clip-path="url(#c20)" stroke-linejoin="round" stroke-linecap="butt"/>
<path d="M108 494 C108.83 494.73 108.47 496.2 113 498.4 C117.53 500.6 127.05 503.82 135.2 507.2 C143.35 510.58 155.22 516 161.9 518.7 C168.58 521.4 170.62 521.62 175.3 523.4 C179.98 525.18 185.32 527.62 190 529.4 C194.68 531.18 198.93 532.32 203.4 534.1 C207.87 535.88 212.33 538.43 216.8 540.1 C221.27 541.77 225.75 542.53 230.2 544.1 C234.65 545.67 239.05 547.72 243.5 549.5 C247.95 551.28 252.43 552.58 256.9 554.8 C261.37 557.02 265.62 559.85 270.3 562.8 C274.98 565.75 280.43 569.4 285 572.5 C289.57 575.6 293.47 578.22 297.7 581.4 C301.93 584.58 307.02 588.63 310.4 591.6 C313.78 594.57 315.23 596.65 318 599.2 C320.77 601.75 324.03 603.72 327 606.9 C329.97 610.08 333.05 614.7 335.8 618.3 C338.55 621.9 340.95 625.53 343.5 628.5 C346.05 631.47 348.57 632.93 351.1 636.1 C353.63 639.27 356.8 645.48 358.7 647.5 C360.6 649.52 361.33 647.35 362.5 648.2 C363.67 649.05 364.53 652.92 365.7 652.6 C366.87 652.28 368.87 647.35 369.5 646.3" fill="none" stroke="#ff0000" stroke-width="3" clip-path="url(#c20)" stroke-linejoin="round" stroke-linecap="butt"/>
<rect x="68.3" y="498.6" width="304.3" height="195.1" fill="none" stroke="#000" stroke-width="1.1"/>
<line x1="62.5" y1="658.2" x2="68.3" y2="658.2" stroke="#000" stroke-width="1.1"/>
<line x1="62.5" y1="586.95" x2="68.3" y2="586.95" stroke="#000" stroke-width="1.1"/>
<line x1="62.5" y1="515.7" x2="68.3" y2="515.7" stroke="#000" stroke-width="1.1"/>
<line x1="68.3" y1="693.7" x2="68.3" y2="699.2" stroke="#000" stroke-width="1.1"/>
<line x1="129.16" y1="693.7" x2="129.16" y2="699.2" stroke="#000" stroke-width="1.1"/>
<line x1="190.02" y1="693.7" x2="190.02" y2="699.2" stroke="#000" stroke-width="1.1"/>
<line x1="250.88" y1="693.7" x2="250.88" y2="699.2" stroke="#000" stroke-width="1.1"/>
<line x1="311.74" y1="693.7" x2="311.74" y2="699.2" stroke="#000" stroke-width="1.1"/>
<line x1="372.6" y1="693.7" x2="372.6" y2="699.2" stroke="#000" stroke-width="1.1"/>
<line x1="79.7" y1="553.5" x2="107.4" y2="553.5" stroke="#000" stroke-width="1.4" stroke-dasharray="5.6 2.3"/>
<line x1="79.7" y1="574.25" x2="107.4" y2="574.25" stroke="#000" stroke-width="1.4"/>
<line x1="79.7" y1="595" x2="107.4" y2="595" stroke="#0000ff" stroke-width="3"/>
<line x1="79.7" y1="615.75" x2="107.4" y2="615.75" stroke="#008000" stroke-width="3"/>
<line x1="79.7" y1="636.5" x2="107.4" y2="636.5" stroke="#ff0000" stroke-width="3"/>
<text transform="translate(117.8,558.2) scale(1.0624,1)" font-size="13.67" fill="#000">None</text>
<text transform="translate(117.86,578.5) scale(1.0539,1)" font-size="13.67" fill="#000">All True</text>
<text transform="translate(117.9,599.2) scale(0.9765,1)" font-size="13.67" fill="#000">ESO-RD</text>
<text transform="translate(118.33,620) scale(0.9739,1)" font-size="13.67" fill="#000">GTV-RD</text>
<text transform="translate(117.91,641.2) scale(0.9697,1)" font-size="13.67" fill="#000">EG-RD</text>
<line x1="432.9" y1="658.2" x2="734.16" y2="658.2" stroke="#000" stroke-width="1.3"/>
<path d="M463.33 493.34 L464.56 494.2 L465.78 495.07 L467.01 495.94 L468.24 496.83 L469.47 497.72 L470.69 498.62 L471.92 499.53 L473.15 500.45 L474.38 501.38 L475.6 502.32 L476.83 503.26 L478.06 504.21 L479.29 505.18 L480.51 506.15 L481.74 507.13 L482.97 508.12 L484.2 509.12 L485.42 510.13 L486.65 511.15 L487.88 512.18 L489.11 513.22 L490.33 514.27 L491.56 515.33 L492.79 516.4 L494.02 517.48 L495.24 518.58 L496.47 519.68 L497.7 520.8 L498.93 521.93 L500.15 523.07 L501.38 524.22 L502.61 525.38 L503.84 526.55 L505.06 527.74 L506.29 528.94 L507.52 530.16 L508.74 531.38 L509.97 532.62 L511.2 533.87 L512.43 535.14 L513.65 536.42 L514.88 537.71 L516.11 539.02 L517.34 540.35 L518.56 541.69 L519.79 543.04 L521.02 544.41 L522.25 545.79 L523.47 547.19 L524.7 548.61 L525.93 550.04 L527.16 551.49 L528.38 552.96 L529.61 554.44 L530.84 555.94 L532.07 557.46 L533.29 559 L534.52 560.56 L535.75 562.14 L536.98 563.73 L538.2 565.34 L539.43 566.98 L540.66 568.63 L541.89 570.31 L543.11 572.01 L544.34 573.73 L545.57 575.47 L546.8 577.23 L548.02 579.02 L549.25 580.83 L550.48 582.66 L551.7 584.52 L552.93 586.4 L554.16 588.31 L555.39 590.24 L556.61 592.2 L557.84 594.19 L559.07 596.2 L560.3 598.24 L561.52 600.31 L562.75 602.41 L563.98 604.54 L565.21 606.7 L566.43 608.89 L567.66 611.11 L568.89 613.37 L570.12 615.65 L571.34 617.97 L572.57 620.33 L573.8 622.72 L575.03 625.15 L576.25 627.62 L577.48 630.12 L578.71 632.66 L579.94 635.24 L581.16 637.86 L582.39 640.53 L583.62 643.23 L584.85 645.98 L586.07 648.78 L587.3 651.62 L588.53 654.5 L589.76 657.44 L590.98 660.42 L592.21 663.46 L593.44 666.54 L594.66 669.68 L595.89 672.88 L597.12 676.13 L598.35 679.43 L599.57 682.8 L600.8 686.23 L602.03 689.72 L603.26 693.27 L604.48 696.89 L605.71 700.58 L606.94 704.33 L608.17 708.16 L609.39 712.06" fill="none" stroke="#000" stroke-width="1.4" stroke-dasharray="5.6 2.3" clip-path="url(#c21)" stroke-linejoin="round"/>
<path d="M466 494 C466.67 494.73 464.3 494.28 470 498.4 C475.7 502.52 490.72 512.63 500.2 518.7 C509.68 524.77 520.22 530.67 526.9 534.8 C533.58 538.93 535.62 540.18 540.3 543.5 C544.98 546.82 550.32 551.27 555 554.7 C559.68 558.13 563.93 560.75 568.4 564.1 C572.87 567.45 577.33 571.23 581.8 574.8 C586.27 578.37 590.75 581.7 595.2 585.5 C599.65 589.3 604.05 593.13 608.5 597.6 C612.95 602.07 617.43 608.28 621.9 612.3 C626.37 616.32 631.45 618.9 635.3 621.7 C639.15 624.5 642.27 627.87 645 629.1 C647.73 630.33 649.25 627.98 651.7 629.1 C654.15 630.22 656.35 633.78 659.7 635.8 C663.05 637.82 667.57 639.63 671.8 641.2 C676.03 642.77 681.1 644.65 685.1 645.2 C689.1 645.75 692.45 643.95 695.8 644.5 C699.15 645.05 702.3 647.17 705.2 648.5 C708.1 649.83 710.52 651.27 713.2 652.5 C715.88 653.73 719.07 653.67 721.3 655.9 C723.53 658.13 725.05 662.22 726.6 665.9 C728.15 669.58 729.7 673.43 730.6 678 C731.5 682.57 731.72 689.97 732 693.3 C732.28 696.63 732.25 697.22 732.3 698" fill="none" stroke="#0000ff" stroke-width="3" clip-path="url(#c21)" stroke-linejoin="round" stroke-linecap="butt"/>
<path d="M463 494 C463.67 494.73 464.5 496.32 467 498.4 C469.5 500.48 474.7 503.92 478 506.5 C481.3 509.08 483.1 510.88 486.8 513.9 C490.5 516.92 495.75 521.35 500.2 524.6 C504.65 527.85 509.05 530.7 513.5 533.4 C517.95 536.1 522.43 538.22 526.9 540.8 C531.37 543.38 535.62 546.25 540.3 548.9 C544.98 551.55 550.32 554.28 555 556.7 C559.68 559.12 563.93 560.83 568.4 563.4 C572.87 565.97 577.33 569.75 581.8 572.1 C586.27 574.45 590.75 575.03 595.2 577.5 C599.65 579.97 604.05 583.55 608.5 586.9 C612.95 590.25 617.43 594.27 621.9 597.6 C626.37 600.93 631.95 604.23 635.3 606.9 C638.65 609.57 639.77 612.37 642 613.6 C644.23 614.83 646.87 613.83 648.7 614.3 C650.53 614.77 650.93 615.38 653 616.4 C655.07 617.42 658.42 618.17 661.1 620.4 C663.78 622.63 666.22 627.35 669.1 629.8 C671.98 632.25 675.73 633.32 678.4 635.1 C681.07 636.88 683.08 638.27 685.1 640.5 C687.12 642.73 688.72 645.83 690.5 648.5 C692.28 651.17 694.02 654.48 695.8 656.5 C697.58 658.52 699.42 658.58 701.2 660.6 C702.98 662.62 704.27 665.7 706.5 668.6 C708.73 671.5 712.37 675.77 714.6 678 C716.83 680.23 718.35 679.45 719.9 682 C721.45 684.55 723.05 690.63 723.9 693.3 C724.75 695.97 724.82 697.22 725 698" fill="none" stroke="#008000" stroke-width="3" clip-path="url(#c21)" stroke-linejoin="round" stroke-linecap="butt"/>
<path d="M465 494 C465.75 494.73 465.87 495.83 469.5 498.4 C473.13 500.97 481.68 506.23 486.8 509.4 C491.92 512.57 495.75 514.62 500.2 517.4 C504.65 520.18 509.05 523.42 513.5 526.1 C517.95 528.78 522.43 531.05 526.9 533.5 C531.37 535.95 535.62 538.05 540.3 540.8 C544.98 543.55 550.32 547.23 555 550 C559.68 552.77 563.93 554.72 568.4 557.4 C572.87 560.08 577.33 564.08 581.8 566.1 C586.27 568.12 590.75 567.72 595.2 569.5 C599.65 571.28 604.05 574.35 608.5 576.8 C612.95 579.25 617.43 581.75 621.9 584.2 C626.37 586.65 631.45 588.8 635.3 591.5 C639.15 594.2 642.05 598.15 645 600.4 C647.95 602.65 650.32 603.33 653 605 C655.68 606.67 658.42 607.93 661.1 610.4 C663.78 612.87 666.65 617.57 669.1 619.8 C671.55 622.03 673.35 621.35 675.8 623.8 C678.25 626.25 681.35 631.83 683.8 634.5 C686.25 637.17 688.27 637.47 690.5 639.8 C692.73 642.13 694.75 645.6 697.2 648.5 C699.65 651.4 703.42 654.52 705.2 657.2 C706.98 659.88 706.78 661.82 707.9 664.6 C709.02 667.38 710.33 670.33 711.9 673.9 C713.47 677.47 715.97 682.77 717.3 686 C718.63 689.23 719.28 691.3 719.9 693.3 C720.52 695.3 720.82 697.22 721 698" fill="none" stroke="#ff0000" stroke-width="3" clip-path="url(#c21)" stroke-linejoin="round" stroke-linecap="butt"/>
<rect x="432.9" y="498.6" width="304.3" height="195.1" fill="none" stroke="#000" stroke-width="1.1"/>
<line x1="427.1" y1="658.2" x2="432.9" y2="658.2" stroke="#000" stroke-width="1.1"/>
<line x1="427.1" y1="586.95" x2="432.9" y2="586.95" stroke="#000" stroke-width="1.1"/>
<line x1="427.1" y1="515.7" x2="432.9" y2="515.7" stroke="#000" stroke-width="1.1"/>
<line x1="432.9" y1="693.7" x2="432.9" y2="699.2" stroke="#000" stroke-width="1.1"/>
<line x1="493.76" y1="693.7" x2="493.76" y2="699.2" stroke="#000" stroke-width="1.1"/>
<line x1="554.62" y1="693.7" x2="554.62" y2="699.2" stroke="#000" stroke-width="1.1"/>
<line x1="615.48" y1="693.7" x2="615.48" y2="699.2" stroke="#000" stroke-width="1.1"/>
<line x1="676.34" y1="693.7" x2="676.34" y2="699.2" stroke="#000" stroke-width="1.1"/>
<line x1="737.2" y1="693.7" x2="737.2" y2="699.2" stroke="#000" stroke-width="1.1"/>
<line x1="444.3" y1="553.5" x2="472" y2="553.5" stroke="#000" stroke-width="1.4" stroke-dasharray="5.6 2.3"/>
<line x1="444.3" y1="574.25" x2="472" y2="574.25" stroke="#000" stroke-width="1.4"/>
<line x1="444.3" y1="595" x2="472" y2="595" stroke="#0000ff" stroke-width="3"/>
<line x1="444.3" y1="615.75" x2="472" y2="615.75" stroke="#008000" stroke-width="3"/>
<line x1="444.3" y1="636.5" x2="472" y2="636.5" stroke="#ff0000" stroke-width="3"/>
<text transform="translate(482.4,558.2) scale(1.0624,1)" font-size="13.67" fill="#000">None</text>
<text transform="translate(482.46,578.5) scale(1.0539,1)" font-size="13.67" fill="#000">All True</text>
<text transform="translate(482.5,599.2) scale(0.9765,1)" font-size="13.67" fill="#000">ESO-RD</text>
<text transform="translate(482.93,620) scale(0.9739,1)" font-size="13.67" fill="#000">GTV-RD</text>
<text transform="translate(482.51,641.2) scale(0.9697,1)" font-size="13.67" fill="#000">EG-RD</text>
<text transform="translate(150.58,19.7) scale(1.0754,1)" font-size="21.38" fill="#000">Train Cohorts</text>
<text transform="translate(519.78,19.7) scale(1.0768,1)" font-size="21.38" fill="#000">Test Cohorts</text>
<text transform="translate(29.65,17.2) scale(1.1580,1)" font-size="23.31" font-weight="bold" fill="#000">(a)</text>
<text transform="translate(394.15,17.2) scale(1.1586,1)" font-size="23.31" font-weight="bold" fill="#000">(b)</text>
<text transform="translate(29.6,252.9) scale(1.1121,1)" font-size="23.31" font-weight="bold" fill="#000">(c)</text>
<text transform="translate(394.16,252.9) scale(1.1476,1)" font-size="23.31" font-weight="bold" fill="#000">(d)</text>
<text transform="translate(29.53,487) scale(1.1733,1)" font-size="23.31" font-weight="bold" fill="#000">(e)</text>
<text transform="translate(394.06,487) scale(1.2332,1)" font-size="23.31" font-weight="bold" fill="#000">(f)</text>
<text transform="translate(29.03,194.82) scale(1.0532,1)" font-size="18.37" fill="#000">0.0</text>
<text transform="translate(29.02,123.57) scale(1.0633,1)" font-size="18.37" fill="#000">0.2</text>
<text transform="translate(29.03,52.32) scale(1.0453,1)" font-size="18.37" fill="#000">0.4</text>
<text transform="translate(29.03,429.92) scale(1.0532,1)" font-size="18.37" fill="#000">0.0</text>
<text transform="translate(29.02,358.67) scale(1.0633,1)" font-size="18.37" fill="#000">0.2</text>
<text transform="translate(29.03,287.42) scale(1.0453,1)" font-size="18.37" fill="#000">0.4</text>
<text transform="translate(24.68,665.89) scale(1.0889,1)" font-size="21.06" fill="#000">0.0</text>
<text transform="translate(24.67,594.64) scale(1.0994,1)" font-size="21.06" fill="#000">0.2</text>
<text transform="translate(24.69,523.39) scale(1.0807,1)" font-size="21.06" fill="#000">0.4</text>
<text transform="translate(16.69,185.36) rotate(-90) scale(1.1193,1)" font-size="21.22" fill="#000">Net Benefit</text>
<text transform="translate(16.69,420.46) rotate(-90) scale(1.1193,1)" font-size="21.22" fill="#000">Net Benefit</text>
<text transform="translate(13.63,648.2) rotate(-90) scale(1.2141,1)" font-size="17.01" fill="#000">Net Benefit</text>
<text transform="translate(421.19,185.36) rotate(-90) scale(1.1052,1)" font-size="21.5" fill="#000">Net Benefit</text>
<text transform="translate(421.19,420.46) rotate(-90) scale(1.1052,1)" font-size="21.5" fill="#000">Net Benefit</text>
<text transform="translate(421.19,654.76) rotate(-90) scale(1.1052,1)" font-size="21.5" fill="#000">Net Benefit</text>
<text transform="translate(51.67,719.99) scale(1.1072,1)" font-size="20.92" fill="#000">0.0</text>
<text transform="translate(418.71,717.03) scale(1.1307,1)" font-size="17.39" fill="#000">0.0</text>
<text transform="translate(112.52,719.99) scale(1.1179,1)" font-size="20.92" fill="#000">0.2</text>
<text transform="translate(479.57,717.03) scale(1.1416,1)" font-size="17.39" fill="#000">0.2</text>
<text transform="translate(173.4,719.99) scale(1.0989,1)" font-size="20.92" fill="#000">0.4</text>
<text transform="translate(540.44,717.03) scale(1.1221,1)" font-size="17.39" fill="#000">0.4</text>
<text transform="translate(234.25,719.99) scale(1.1115,1)" font-size="20.92" fill="#000">0.6</text>
<text transform="translate(601.29,717.03) scale(1.1350,1)" font-size="17.39" fill="#000">0.6</text>
<text transform="translate(295.11,719.99) scale(1.1115,1)" font-size="20.92" fill="#000">0.8</text>
<text transform="translate(662.15,717.03) scale(1.1350,1)" font-size="17.39" fill="#000">0.8</text>
<text transform="translate(355.9,719.99) scale(1.0852,1)" font-size="20.92" fill="#000">1.0</text>
<text transform="translate(724.66,717.03) scale(1.1076,1)" font-size="17.39" fill="#000">1.0</text>
<text transform="translate(143.29,745.7) scale(1.0887,1)" font-size="21.24" fill="#000">Risk Threshold</text>
<text transform="translate(507.69,741.4) scale(1.0849,1)" font-size="21.38" fill="#000">Risk Threshold</text>
</svg></div>
</body></html>
